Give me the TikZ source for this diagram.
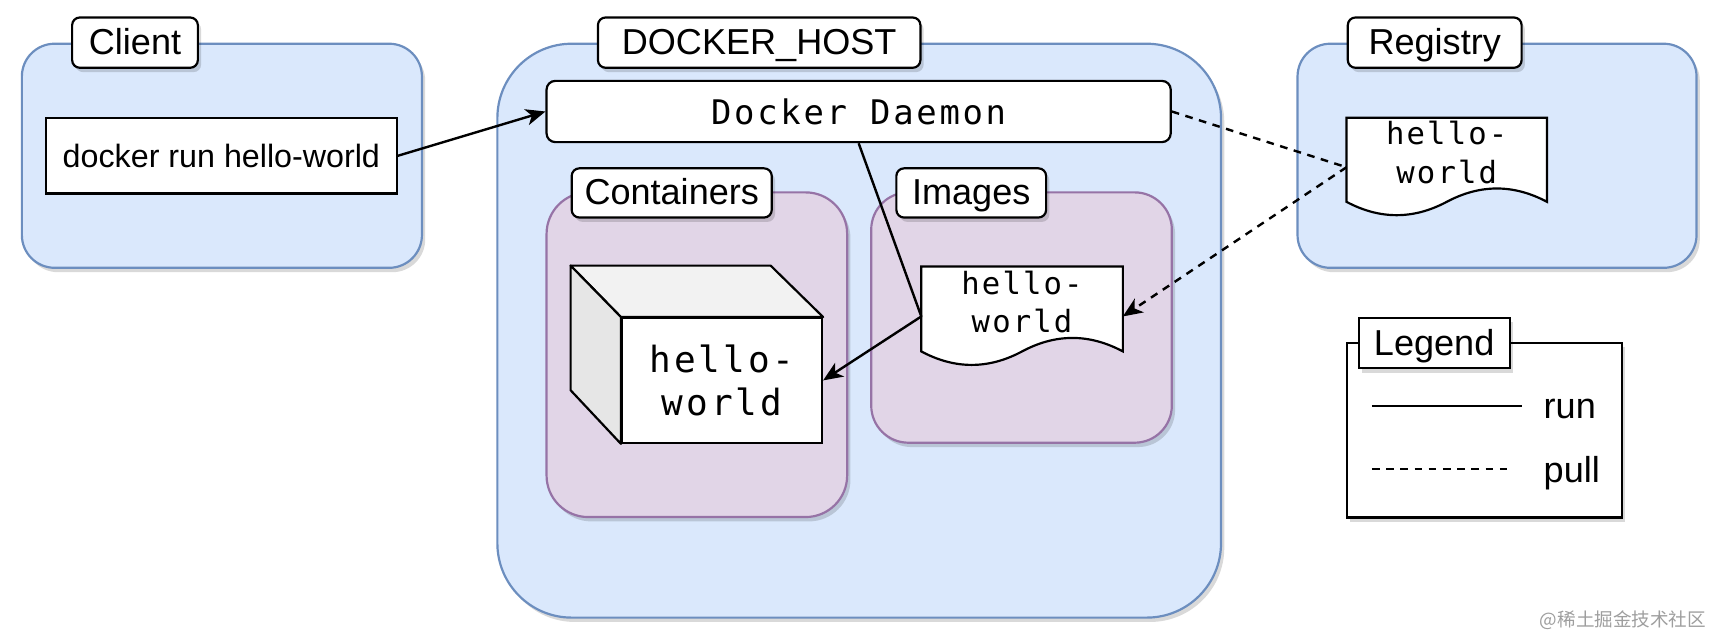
\documentclass[tikz,border=0pt]{standalone}
\usepackage{fontspec}
\setmainfont{Liberation Sans}
\newfontfamily\monof[LetterSpace=8]{DejaVu Sans Mono}
\newfontfamily\monodoc[LetterSpace=7]{DejaVu Sans Mono}
\newfontfamily\cjkf{Noto Sans CJK SC}
\usetikzlibrary{arrows.meta,shadows,calc}
\definecolor{bluefill}{HTML}{DAE8FC}
\definecolor{bluestroke}{HTML}{6C8EBF}
\definecolor{purplefill}{HTML}{E1D5E7}
\definecolor{purplestroke}{HTML}{9673A6}
\definecolor{cubetop}{HTML}{F2F2F2}
\definecolor{cubeleft}{HTML}{E6E6E6}
\tikzset{
  shad/.style={drop shadow={shadow xshift=3pt,shadow yshift=-4pt,opacity=0.15,fill=black}},
  bluebox/.style={draw=bluestroke,fill=bluefill,line width=2pt,inner sep=0pt,shad},
  purplebox/.style={draw=purplestroke,fill=purplefill,line width=2pt,inner sep=0pt,shad},
  tag/.style={draw=black,fill=white,line width=2pt,rounded corners=7pt,inner sep=0pt,
    minimum height=46pt,font=\fontsize{33}{38}\selectfont,text height=27pt,text depth=5pt,shad},
  sqtag/.style={tag,rounded corners=0pt},
  plainbox/.style={draw=black,fill=white,line width=2pt,inner sep=0pt},
  docbody/.style={inner sep=0pt,draw=none},
  docline/.style={draw=black,fill=white,line width=2pt},
  doctext/.style={inner sep=0pt,align=center,font=\monodoc\fontsize{28}{35}\selectfont},
  runline/.style={line width=2.2pt,draw=black},
  pullline/.style={line width=2.2pt,draw=black,dash pattern=on 7pt off 6pt},
  tip/.style={-{Stealth[length=18pt,width=15pt,inset=5pt]}},
  legtext/.style={inner sep=0pt,anchor=base west,font=\fontsize{33}{38}\selectfont}
}
\newcommand\drawdoc[1]{%
  \path[docline] let \p1=(#1.north west), \p2=(#1.south east),
    \n1={\x2-\x1}, \n2={\y1-\y2} in
    (\x1,\y1) -- (\x2,\y1) -- (\x2,{\y2+0.15*\n2})
    .. controls ({\x2-\n1/6},{\y2+0.33*\n2}) and ({\x1+2*\n1/3},{\y2+0.33*\n2}) .. ({\x1+\n1/2},{\y2+0.15*\n2})
    .. controls ({\x1+\n1/3},{\y2-0.03*\n2}) and ({\x1+\n1/6},{\y2-0.03*\n2}) .. (\x1,{\y2+0.15*\n2}) -- cycle;}
\begin{document}
\begin{tikzpicture}[x=1pt,y=-1pt]
\useasboundingbox (0,0) rectangle (1568,580);
% Client
\node[bluebox,rounded corners=30pt,minimum width=366pt,minimum height=205pt] (client) at (203,142.5) {};
\node[tag,minimum width=115pt] (clientlbl) at (123.5,39) {Client};
\node[plainbox,minimum width=321pt,minimum height=69pt,font=\fontsize{29.5}{34}\selectfont] (runbox) at (202.5,142.5) {docker run hello-world};
% Docker host
\node[bluebox,rounded corners=68pt,minimum width=662pt,minimum height=525pt] (host) at (786,302.5) {};
\node[tag,minimum width=295pt] (hostlbl) at (694.5,39) {DOCKER\_HOST};
\node[plainbox,rounded corners=8pt,minimum width=571pt,minimum height=56pt,font=\monof\fontsize{31}{36}\selectfont] (daemon) at (785.5,102) {Docker Daemon};
% Containers
\node[purplebox,rounded corners=38pt,minimum width=275pt,minimum height=297pt] (containers) at (637.5,324.5) {};
\node[tag,minimum width=183pt,minimum height=45pt] (contlbl) at (614.5,176.5) {Containers};
% Images
\node[purplebox,rounded corners=34pt,minimum width=275pt,minimum height=229pt] (images) at (934.5,290.5) {};
\node[tag,minimum width=137pt,minimum height=45pt] (imglbl) at (888.5,176.5) {Images};
% Cube
\node[plainbox,minimum width=183pt,minimum height=114pt,align=center,font=\monof\fontsize{33}{39}\selectfont] (cube) at (660.5,348) {hello-\\world};
\path[draw=black,fill=cubetop,line width=2pt,line join=round] (cube.north west) -- ++(-46,-47) -- ++(183,0) -- (cube.north east) -- cycle;
\path[draw=black,fill=cubeleft,line width=2pt,line join=round] (cube.north west) -- ++(-46,-47) -- ++(0,114) -- (cube.south west) -- cycle;
% Image document
\node[docbody,minimum width=184pt,minimum height=91pt] (imgdoc) at (935,289.5) {};
\drawdoc{imgdoc}
\node[doctext] (imgdoctext) at (935,276) {hello-\\world};
% Registry
\node[bluebox,rounded corners=30pt,minimum width=365pt,minimum height=205pt] (registry) at (1369.5,142.5) {};
\node[tag,minimum width=159pt] (reglbl) at (1312.5,39) {Registry};
\node[docbody,minimum width=183pt,minimum height=90pt] (regdoc) at (1323.5,153) {};
\drawdoc{regdoc}
\node[doctext] (regdoctext) at (1323.5,139.5) {hello-\\world};
% Legend
\node[plainbox,minimum width=252pt,minimum height=160pt,shad] (legend) at (1358,393.5) {};
\node[sqtag,minimum width=138pt,minimum height=46pt] (leglbl) at (1312,314) {Legend};
\coordinate (runA) at (1255,371.5);
\coordinate (runB) at (1392,371.5);
\coordinate (pullA) at (1255,429);
\coordinate (pullB) at (1385,429);
\draw[runline] (runA) -- (runB);
\draw[pullline] (pullA) -- (pullB);
\node[legtext] (runtxt) at (1412,383) {run};
\node[legtext] (pulltxt) at (1412,441) {pull};
% Connectors
\draw[runline,tip] (runbox.east) -- (daemon.west);
\draw[runline,tip,line join=round] (daemon.south) -- (imgdoc.west) -- (cube.east);
\draw[pullline] (daemon.east) -- (regdoc.west);
\draw[pullline,tip] (regdoc.west) -- (imgdoc.east);
% Watermark
\node[inner sep=0pt,anchor=east,text=black!38,font=\cjkf\fontsize{17}{19}\selectfont] (wm) at (1561,567) {@稀土掘金技术社区};
\end{tikzpicture}
\end{document}
